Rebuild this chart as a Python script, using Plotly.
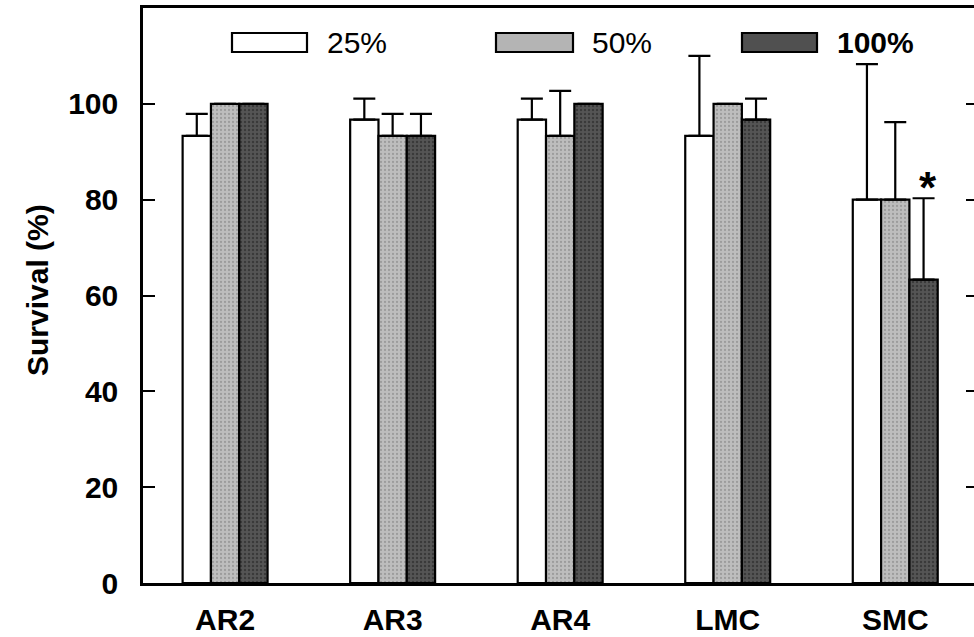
import plotly.graph_objects as go

categories = ["AR2", "AR3", "AR4", "LMC", "SMC"]
series_names = ["25%", "50%", "100%"]
values_25 = [93.3, 96.7, 96.7, 93.3, 80.0]
errors_25 = [4.6, 4.4, 4.4, 16.7, 28.3]
values_50 = [100.0, 93.3, 93.3, 100.0, 80.0]
errors_50 = [0, 4.6, 9.4, 0, 16.2]
values_100 = [100.0, 93.3, 100.0, 96.7, 63.3]
errors_100 = [0, 4.6, 0, 4.4, 17.0]
y_ticks = [0, 20, 40, 60, 80, 100]

FONT = "Liberation Sans, Arial, Helvetica, sans-serif"

styles = [
    dict(color="#ffffff", pattern=None),
    dict(color="#b4b4b4", pattern=dict(shape=".", bgcolor="#bdbdbd", fgcolor="#7a7a7a", size=4, solidity=0.25)),
    dict(color="#505050", pattern=dict(shape=".", bgcolor="#555555", fgcolor="#1e1e1e", size=4, solidity=0.3)),
]

fig = go.Figure()
for name, vals, errs, st in zip(series_names, [values_25, values_50, values_100],
                                [errors_25, errors_50, errors_100], styles):
    marker = dict(color=st["color"], line=dict(color="black", width=2.2))
    if st["pattern"]:
        marker["pattern"] = st["pattern"]
    fig.add_trace(go.Bar(
        x=categories, y=vals, name=name, marker=marker,
        error_y=dict(type="data", array=errs, arrayminus=[0] * len(errs),
                     symmetric=False, color="black", thickness=2.2, width=11),
        showlegend=False,
    ))

# second y-axis only for the mirrored tick marks on the right
fig.add_trace(go.Scatter(x=[categories[0]], y=[0], yaxis="y2", mode="markers",
                         marker=dict(opacity=0), showlegend=False, hoverinfo="skip"))

L, R, T, B = 143, 974, 8, 583
W, H = 974, 637
pw, ph = R - L, B - T

def px(xp):
    return (xp - L) / pw

def py(yp):
    return (B - yp) / ph

shapes = []
annotations = []
legend_boxes = [(232, 307), (496, 573), (742, 817)]
legend_text_x = [325, 590, 835]
box_y = (33, 52)
fills = ["#ffffff", "#b4b4b4", "#505050"]
for i, name in enumerate(series_names):
    x0, x1 = legend_boxes[i]
    sh = dict(type="rect", xref="paper", yref="paper",
              x0=px(x0), x1=px(x1), y0=py(box_y[1]), y1=py(box_y[0]),
              line=dict(color="black", width=2.2), fillcolor=fills[i])
    shapes.append(sh)
    annotations.append(dict(
        xref="paper", yref="paper", x=px(legend_text_x[i]), y=py(42),
        xanchor="left", yanchor="middle", showarrow=False,
        text=("<b>%s</b>" % name) if i == 2 else name,
        font=dict(family=FONT, size=30, color="black")))

# significance asterisk above SMC 100%
annotations.append(dict(xref="x", yref="y", x=4, xshift=33, y=82.5,
                        text="<b>*</b>", showarrow=False, yanchor="middle",
                        font=dict(family=FONT, size=44, color="black")))
# y-axis title
annotations.append(dict(xref="paper", yref="paper", x=px(37), y=py(290),
                        xanchor="center", yanchor="middle", textangle=-90,
                        text="<b>Survival (%)</b>", showarrow=False,
                        font=dict(family=FONT, size=30, color="black")))

fig.update_layout(
    width=W, height=H,
    margin=dict(l=L, r=W - R, t=T, b=H - B, pad=0),
    paper_bgcolor="white", plot_bgcolor="white",
    barmode="group", bargap=0.493, bargroupgap=0,
    font=dict(family=FONT, size=30, color="black"),
    xaxis=dict(range=[-0.49, 4.47], showline=True, linecolor="black", linewidth=2.5,
               mirror=True, ticks="", showgrid=False, zeroline=False,
               tickfont=dict(family=FONT, size=30, color="black", weight="bold"),
               ticklabelstandoff=8),
    yaxis=dict(range=[0, 120], tickvals=y_ticks, showline=True, linecolor="black",
               linewidth=2.5, ticks="inside", ticklen=12, tickwidth=2.2, tickcolor="black",
               showgrid=False, zeroline=False,
               tickfont=dict(family=FONT, size=30, color="black", weight="bold"),
               ticklabelstandoff=16),
    yaxis2=dict(range=[0, 120], tickvals=y_ticks, overlaying="y", side="right",
                showline=False, ticks="inside", ticklen=8, tickwidth=2.2, tickcolor="black",
                showticklabels=False, showgrid=False, zeroline=False),
    shapes=shapes, annotations=annotations,
)

fig.write_html("out.html", config={"displayModeBar": False},
               post_script="document.body.style.margin='0';document.body.style.overflow='hidden';")
